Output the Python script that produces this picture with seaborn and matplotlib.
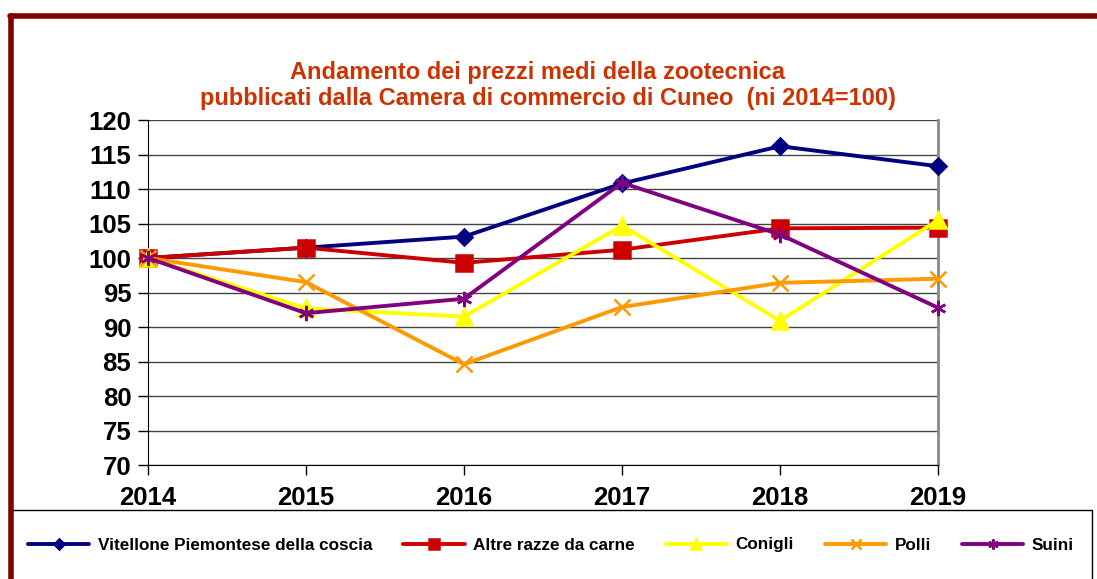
import numpy as np
import pandas as pd
import matplotlib.pyplot as plt
from matplotlib.lines import Line2D
from matplotlib.patches import Rectangle
import seaborn as sns

years = [2014, 2015, 2016, 2017, 2018, 2019]
vitellone = [100, 101.5, 103.1, 110.8, 116.2, 113.3]
altre_razze = [100, 101.5, 99.3, 101.2, 104.3, 104.4]
conigli = [100, 92.7, 91.5, 104.7, 90.9, 105.5]
polli = [100, 96.5, 84.6, 92.9, 96.4, 97.0]
suini = [100, 92.0, 94.1, 110.9, 103.4, 92.8]

series_names = ["Vitellone Piemontese della coscia", "Altre razze da carne",
                "Conigli", "Polli", "Suini"]
series_values = [vitellone, altre_razze, conigli, polli, suini]
colors = ["#000080", "#CC0000", "#FFFF00", "#FF9900", "#800080"]
markers = ["D", "s", "^", "x", (6, 2, 0)]
msizes = [8, 11, 11, 11, 11]

df = pd.DataFrame({
    "anno": np.tile(years, len(series_names)),
    "indice": np.concatenate(series_values),
    "serie": np.repeat(series_names, len(years)),
})

sns.set_style("white")
plt.rcParams['font.family'] = ['Liberation Sans', 'DejaVu Sans']
plt.rcParams['font.weight'] = 'bold'
plt.rcParams['text.color'] = 'black'
plt.rcParams['xtick.color'] = 'black'
plt.rcParams['ytick.color'] = 'black'
plt.rcParams['xtick.labelcolor'] = 'black'
plt.rcParams['ytick.labelcolor'] = 'black'

fig = plt.figure(figsize=(10.97, 5.79), dpi=100)
ax = fig.add_axes([148 / 1097, 114 / 579, 790 / 1097, 345 / 579])

for name, col, mk, ms in zip(series_names, colors, markers, msizes):
    sub = df[df["serie"] == name]
    sns.lineplot(data=sub, x="anno", y="indice", ax=ax, color=col, marker=mk,
                 markersize=ms, markeredgecolor=col, markeredgewidth=1.8,
                 linewidth=2.8, label=name, clip_on=False, zorder=3)

ax.set_xlim(2014, 2019)
ax.set_ylim(70, 120)
ax.set_yticks(np.arange(70, 121, 5))
ax.set_xticks(years)
ax.set_xlabel("")
ax.set_ylabel("")
ax.yaxis.grid(True, color="#444444", linewidth=1)
ax.set_axisbelow(True)
ax.tick_params(axis="both", labelsize=18.5, length=7, width=1, color="black",
               labelcolor="black", direction="out", bottom=True, left=True)
ax.tick_params(axis="x", pad=8)
ax.tick_params(axis="y", pad=5)
for lab in ax.get_xticklabels() + ax.get_yticklabels():
    lab.set_fontweight("bold")
ax.spines["top"].set_visible(False)
ax.spines["left"].set_color("black")
ax.spines["bottom"].set_color("black")
ax.spines["right"].set_color("#888888")
ax.spines["right"].set_linewidth(2)
ax.get_legend().remove()

fig.text(537 / 1097, 1 - 72 / 579, "Andamento dei prezzi medi della zootecnica",
         ha="center", va="center", fontsize=17, fontweight="bold", color="#CC3300")
fig.text(548 / 1097, 1 - 99 / 579,
         "pubblicati dalla Camera di commercio di Cuneo  (ni 2014=100)",
         ha="center", va="center", fontsize=17, fontweight="bold", color="#CC3300")

# outer dark red frame
fig.add_artist(Line2D([10 / 1097, 1.0], [1 - 16 / 579, 1 - 16 / 579],
                      color="#800000", linewidth=4, transform=fig.transFigure))
fig.add_artist(Line2D([11 / 1097, 11 / 1097], [0, 1 - 16 / 579],
                      color="#800000", linewidth=4, transform=fig.transFigure))

# legend box
fig.add_artist(Rectangle((11 / 1097, -0.05), (1092 - 11) / 1097, 0.05 + 69 / 579,
                         transform=fig.transFigure, facecolor="white",
                         edgecolor="black", linewidth=1))
handles, labels = ax.get_legend_handles_labels()
leg = fig.legend(handles, labels, loc="center", ncol=5,
                 bbox_to_anchor=(551 / 1097, 1 - 545 / 579), frameon=False,
                 handlelength=3.6, columnspacing=1.8, markerscale=0.65,
                 handletextpad=0.5, prop={"weight": "bold", "size": 12.3})
for t in leg.get_texts():
    t.set_color("black")

fig.savefig("out.png", dpi=100)
